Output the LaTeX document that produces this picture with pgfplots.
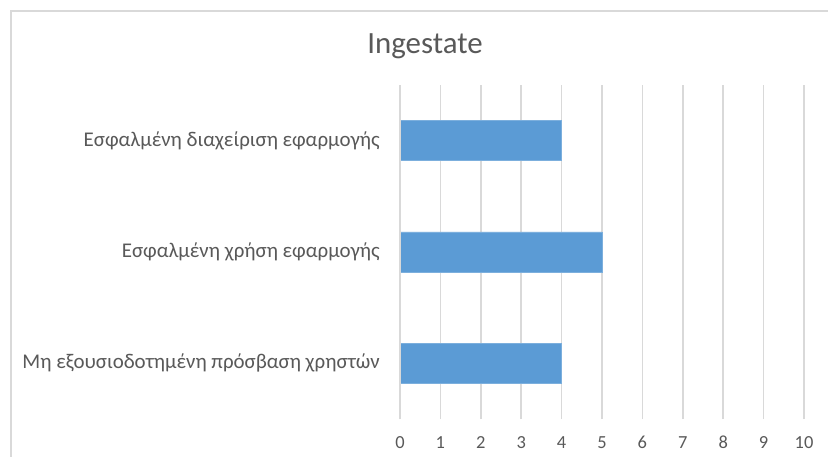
\documentclass[border=0pt]{standalone}
\usepackage{fontspec}
\setmainfont{Carlito}
\usepackage{pgfplots}
\pgfplotsset{compat=1.18}
\definecolor{txt}{HTML}{595959}
\definecolor{gridc}{HTML}{D9D9D9}
\definecolor{barc}{HTML}{5B9BD5}
\begin{document}
\begin{tikzpicture}
\useasboundingbox (0,0) rectangle (828bp,457bp);
\fill[white] (0,0) rectangle (828bp,457bp);
\draw[gridc, line width=2bp] (10.5bp,-10bp) -- (10.5bp,445.5bp) -- (840bp,445.5bp);
\node[anchor=base, text=txt, inner sep=0pt] at (425bp,403bp) {\fontsize{31}{36}\selectfont Ingestate};
\begin{axis}[
  at={(400bp,38bp)}, anchor=south west,
  scale only axis, width=404bp, height=334bp,
  xbar, bar width=40bp,
  xmin=0, xmax=10, ymin=-0.5, ymax=2.5,
  xtick={0,1,...,10},
  ytick={0,1,2},
  yticklabels={Μη εξουσιοδοτημένη πρόσβαση χρηστών, Εσφαλμένη χρήση εφαρμογής, Εσφαλμένη διαχείριση εφαρμογής},
  xmajorgrids=true, ymajorgrids=false,
  major grid style={draw=gridc, line width=1.5bp},
  axis line style={draw=none},
  axis x line*=bottom, axis y line*=left,
  major tick length=0pt,
  /pgf/number format/assume math mode=true,
  ticklabel style={text=txt},
  xticklabel style={anchor=base, yshift=-29bp, font=\fontsize{18.5}{21}\selectfont},
  yticklabel style={anchor=east, inner sep=0pt, xshift=-20bp, font=\fontsize{21}{24}\selectfont},
  clip=false,
]
\addplot[fill=barc, draw=barc!80!white] coordinates {(4,0) (5,1) (4,2)};
\draw[gridc, line width=1.5bp] (axis cs:0,-0.5) -- (axis cs:0,2.5);
\end{axis}
\end{tikzpicture}
\end{document}
